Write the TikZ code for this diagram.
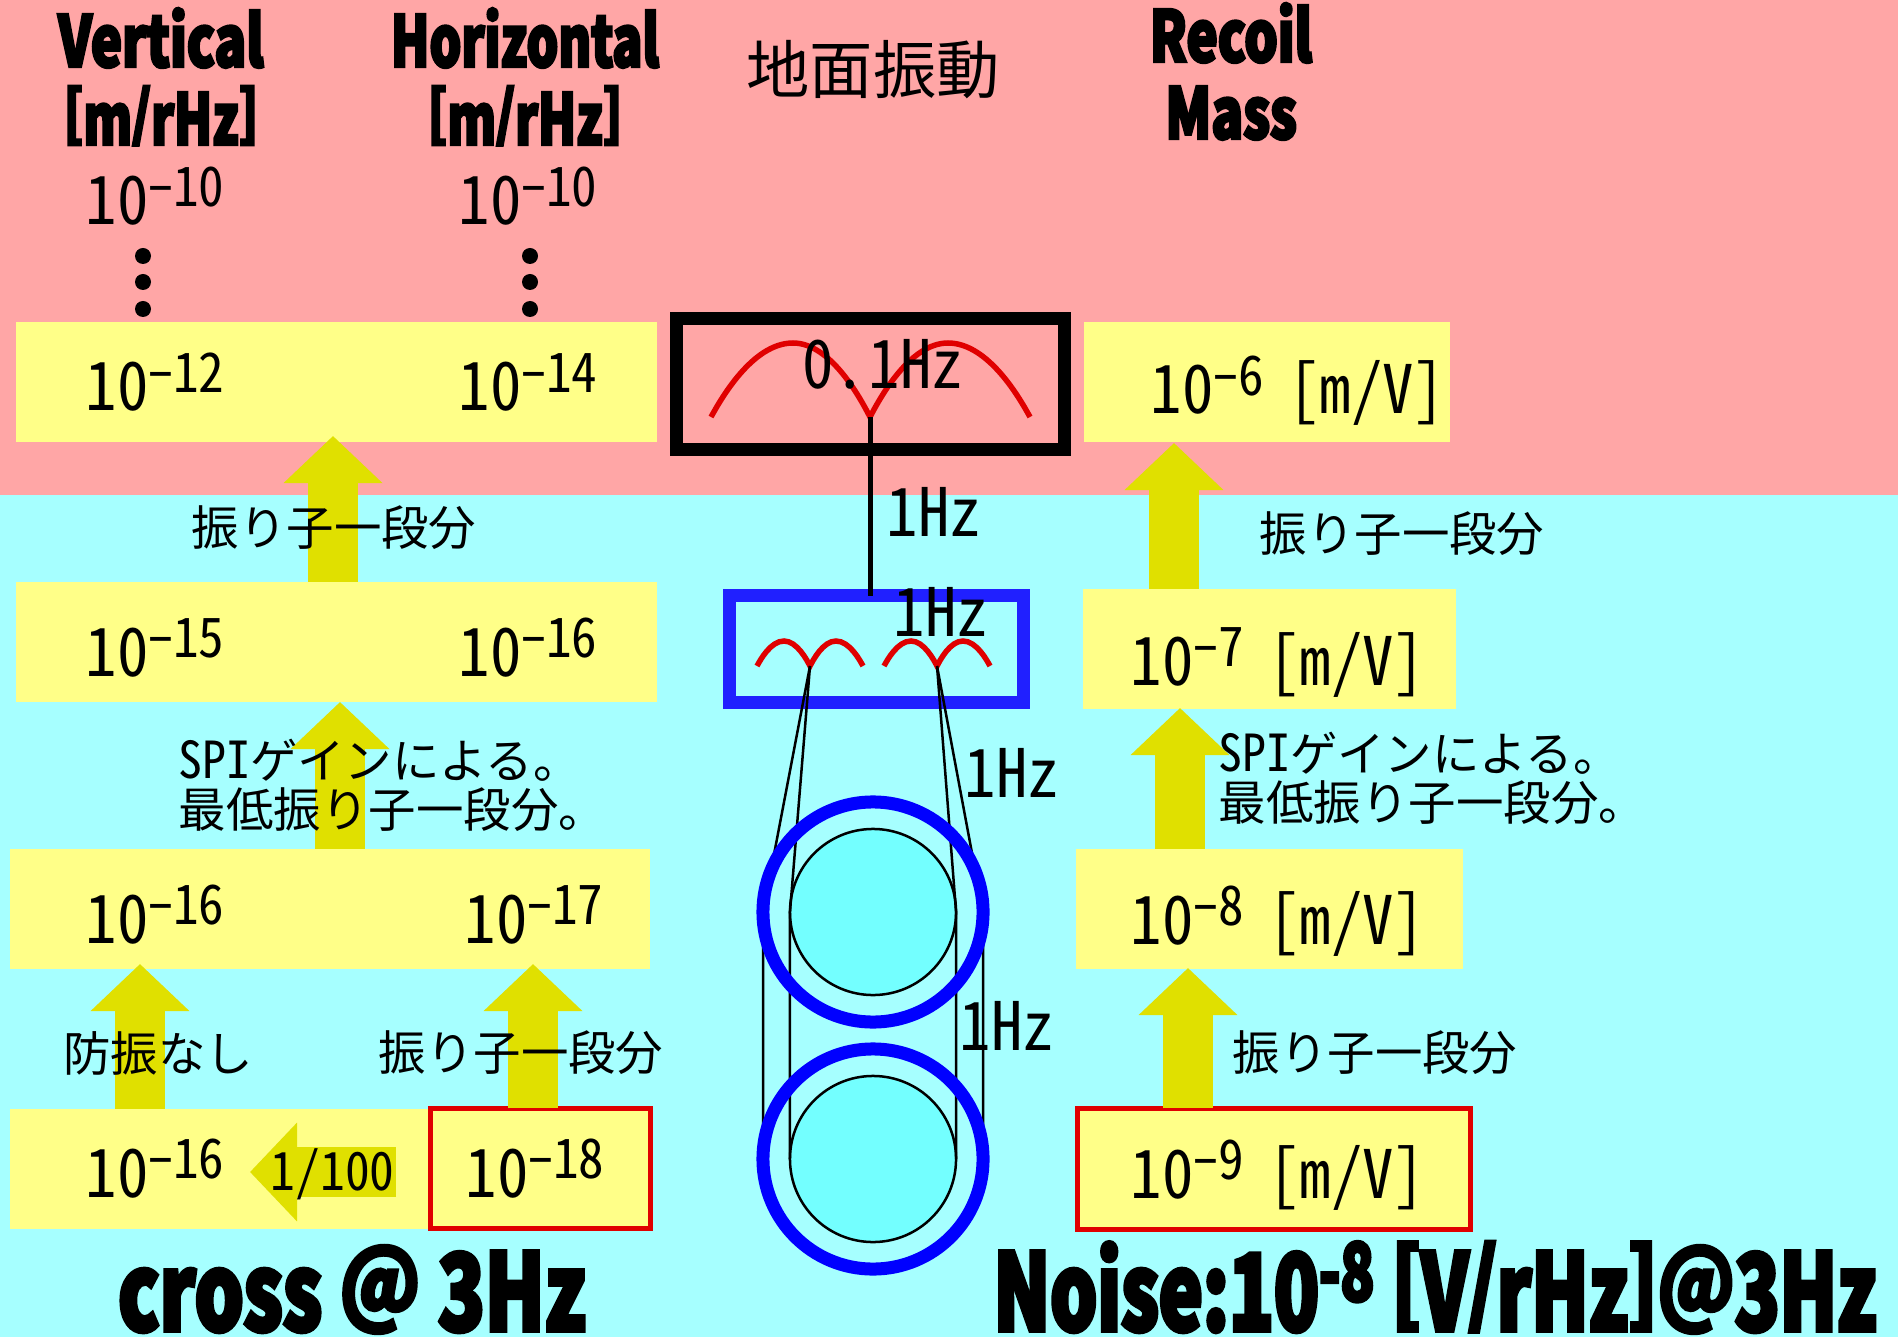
\documentclass[tikz,border=0pt]{standalone}
\usepackage{fontspec}
\usetikzlibrary{arrows.meta}
\newfontfamily\jpfont{Noto Sans CJK JP}
\newfontfamily\numfont[RawFeature=+hwid,FakeStretch=0.94]{Noto Sans CJK JP}
\newfontfamily\dashfont[FakeStretch=0.78]{Liberation Sans}
\newfontfamily\heavyfont[FakeStretch=0.74,FakeBold=3.5]{Noto Sans CJK JP Black}
\newfontfamily\hugefont[FakeStretch=0.69,FakeBold=3.5]{Noto Sans CJK JP Black}
\newfontfamily\crossfont[FakeStretch=0.72,FakeBold=3.5]{Noto Sans CJK JP Black}
\definecolor{upperbg}{HTML}{FFA6A6}
\definecolor{lowerbg}{HTML}{A6FFFF}
\definecolor{boxfill}{HTML}{FFFF88}
\definecolor{flowfill}{HTML}{E0E000}
\definecolor{springred}{HTML}{E00000}
\definecolor{stageblue}{HTML}{2020FF}
\definecolor{ringblue}{HTML}{0000FF}
\definecolor{diskfill}{HTML}{73FFFF}
\newcommand{\tenpow}[1]{10\raisebox{5.4pt}{\fontsize{15.5}{15.5}\selectfont{\dashfont −}#1}}
\newcommand{\flatmark}[1]{\raisebox{.145em}{\scalebox{1}[.85]{#1}}}
\newcommand{\unitmark}{\scalebox{.94}[1]{\flatmark{[}m\flatmark{/}rHz\flatmark{]}}}
\tikzset{
  valuebox/.style={fill=boxfill,inner sep=0,outer sep=0},
  redbox/.style={valuebox,draw=springred,line width=0.055cm},
  flowup/.style={flowfill,line width=0.5cm,-{Triangle[length=0.47cm,width=0.96cm]}},
  powlabel/.style={anchor=base west,inner sep=0,font=\numfont\fontsize{19}{19}\selectfont},
  hzlabel/.style={powlabel},
  jplabel/.style={inner sep=0,font=\jpfont\fontsize{13.5}{13.9}\selectfont},
  headlabel/.style={anchor=base,inner sep=0,font=\heavyfont\fontsize{20.2}{20.2}\selectfont},
  footlabel/.style={anchor=base,inner sep=0,font=\hugefont\fontsize{30.5}{30.5}\selectfont},
  stagebox/.style={draw=#1,line width=0.13cm,inner sep=0,outer sep=0},
  wire/.style={line width=0.025cm},
  spring/.style={springred,line width=0.055cm},
  disk/.style={circle,fill=diskfill,draw=black,line width=0.025cm,inner sep=0,outer sep=0,minimum size=1.66cm},
  ring/.style={circle,draw=ringblue,line width=0.13cm,inner sep=0,outer sep=0,minimum size=2.2cm},
}
\begin{document}
\begin{tikzpicture}[x=0.01cm,y=-0.01cm]
  \useasboundingbox (0,0) rectangle (1898,1337);
  \fill[upperbg] (0,0) rectangle (1898,495);
  \fill[lowerbg] (0,495) rectangle (1898,1337);

  % value boxes
  \node[valuebox,minimum width=6.41cm,minimum height=1.2cm] (vtop) at (336.5,382) {};
  \node[valuebox,minimum width=6.41cm,minimum height=1.2cm] (vstage) at (336.5,642) {};
  \node[valuebox,minimum width=6.4cm,minimum height=1.2cm] (vspi) at (330,909) {};
  \node[valuebox,minimum width=6.4cm,minimum height=1.2cm] (vbase) at (330,1169) {};
  \node[redbox,minimum width=2.2cm,minimum height=1.2cm] (hbase) at (540.5,1168.5) {};
  \node[valuebox,minimum width=3.66cm,minimum height=1.2cm] (rtop) at (1267,382) {};
  \node[valuebox,minimum width=3.73cm,minimum height=1.2cm] (rstage) at (1269.5,649) {};
  \node[valuebox,minimum width=3.87cm,minimum height=1.2cm] (rspi) at (1269.5,909) {};
  \node[redbox,minimum width=3.93cm,minimum height=1.21cm] (rbase) at (1274,1169) {};

  % flow arrows
  \coordinate (tipa) at (333,436);
  \coordinate (tipb) at (340,702);
  \coordinate (tipc) at (140,964);
  \coordinate (tipd) at (533,964);
  \coordinate (tipe) at (1174,443);
  \coordinate (tipf) at (1180,708);
  \coordinate (tipg) at (1188,968);
  \draw[flowup] (vstage.north -| tipa) -- (tipa);
  \draw[flowup] (vspi.north -| tipb) -- (tipb);
  \draw[flowup] (vbase.north -| tipc) -- (tipc);
  \draw[flowup] (hbase.north -| tipd) -- (tipd);
  \draw[flowup] (rstage.north -| tipe) -- (tipe);
  \draw[flowup] (rspi.north -| tipf) -- (tipf);
  \draw[flowup] (rbase.north -| tipg) -- (tipg);
  \coordinate (tiph) at (250,1172);
  \coordinate (tailh) at (396,1172);
  \draw[flowup] (tailh) -- (tiph);

  % suspension
  \node[stagebox=black,minimum width=3.88cm,minimum height=1.31cm] (topstage) at (870.5,384) {};
  \node[stagebox=stageblue,minimum width=2.93cm,minimum height=1.06cm] (midstage) at (876.5,649) {};
  \coordinate (cuspa) at (870,417);
  \coordinate (cuspb) at (810,666);
  \coordinate (cuspc) at (937,666);
  \draw[spring] (711,417) parabola bend (793,343) (cuspa) parabola bend (948,343) (1030,417);
  \draw[spring] (757,666) parabola bend (784,641) (cuspb) parabola bend (836,641) (863,666);
  \draw[spring] (884,666) parabola bend (911,641) (cuspc) parabola bend (963,641) (990,666);
  \draw[line width=0.05cm] (cuspa) -- (midstage.north -| cuspa);

  \node[disk] (upperdisk) at (873,912) {};
  \node[disk] (lowerdisk) at (873,1159) {};
  \coordinate (ringal) at (763,912);
  \coordinate (ringar) at (983,912);
  \coordinate (ringbl) at (763,1159);
  \coordinate (ringbr) at (983,1159);
  \draw[wire] (cuspb) -- (ringal) -- (ringbl);
  \draw[wire] (cuspc) -- (ringar) -- (ringbr);
  \draw[wire] (cuspb) -- (upperdisk.west) -- (lowerdisk.west);
  \draw[wire] (cuspc) -- (upperdisk.east) -- (lowerdisk.east);
  \node[ring] (upperring) at (873,912) {};
  \node[ring] (lowerring) at (873,1159) {};

  \foreach \y in {256,282,309} {
    \fill (143,\y) circle (8);
    \fill (530,\y) circle (8);
  }

  % headings
  \node[headlabel] (headv) at (161,67) {Vertical};
  \node[headlabel] (headvu) at (161,145) {\unitmark};
  \node[headlabel] (headh) at (525,67) {\scalebox{.95}[1]{Horizontal}};
  \node[headlabel] (headhu) at (525,145) {\unitmark};
  \node[headlabel] (headr) at (1231,62) {Recoil};
  \node[headlabel] (headm) at (1231,139) {Mass};
  \node[jplabel,font=\jpfont\fontsize{18}{18}\selectfont] (ground) at (873,70) {地面振動};

  % values
  \node[powlabel] (pva) at (85,225) {\tenpow{10}};
  \node[powlabel] (pha) at (458,225) {\tenpow{10}};
  \node[powlabel] (pvb) at (85,411) {\tenpow{12}};
  \node[powlabel] (phb) at (458,411) {\tenpow{14}};
  \node[powlabel] (pvc) at (85,676) {\tenpow{15}};
  \node[powlabel] (phc) at (458,676) {\tenpow{16}};
  \node[powlabel] (pvd) at (85,943) {\tenpow{16}};
  \node[powlabel] (phd) at (464,943) {\tenpow{17}};
  \node[powlabel] (pve) at (85,1197) {\tenpow{16}};
  \node[powlabel] (phe) at (465,1197) {\tenpow{18}};
  \node[powlabel] (pra) at (1150,414) {\tenpow{6}\ \hspace{-2pt}[m/V]};
  \node[powlabel] (prb) at (1130,685) {\tenpow{7}\ \hspace{-2pt}[m/V]};
  \node[powlabel] (prc) at (1130,944) {\tenpow{8}\ \hspace{-2pt}[m/V]};
  \node[powlabel] (prd) at (1130,1198) {\tenpow{9}\ \hspace{-2pt}[m/V]};

  % step labels
  \node[jplabel] (stepa) at (334,528) {振り子一段分};
  \node[jplabel] (stepb) at (1402,534) {振り子一段分};
  \node[jplabel] (stepc) at (1375,1053) {振り子一段分};
  \node[jplabel] (stepd) at (521,1053) {振り子一段分};
  \node[jplabel] (stepe) at (158,1053) {防振なし};
  \node[jplabel,anchor=west,align=left] (spia) at (178,785) {{\numfont\fontsize{14.5}{14.5}\selectfont SPI}ゲインによる。\\最低振り子一段分。};
  \node[jplabel,anchor=west,align=left] (spib) at (1218,778) {{\numfont\fontsize{14.5}{14.5}\selectfont SPI}ゲインによる。\\最低振り子一段分。};
  \node[powlabel,font=\numfont\fontsize{15}{15}\selectfont] (cut) at (270,1190) {1/100};

  % frequencies
  \node[hzlabel] (hztop) at (802,389) {0.\hspace{1pt}1Hz};
  \node[hzlabel] (hza) at (886,536) {1Hz};
  \node[hzlabel] (hzb) at (893,636) {1Hz};
  \node[hzlabel] (hzc) at (964,797) {1Hz};
  \node[hzlabel] (hzd) at (959,1050) {1Hz};

  % footers
  \node[footlabel,font=\crossfont\fontsize{30.5}{30.5}\selectfont] (footl) at (352,1331) {cross \flatmark{@} 3Hz};
  \node[footlabel] (footr) at (1435,1331) {Noise:10\raisebox{8.5pt}{\fontsize{23}{23}\selectfont -8} \flatmark{[}V\flatmark{/}rHz\flatmark{]}\flatmark{@}3Hz};
\end{tikzpicture}
\end{document}
